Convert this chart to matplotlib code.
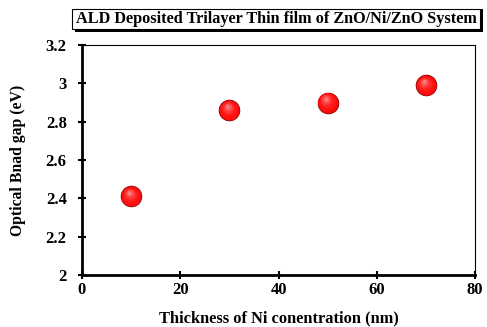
import matplotlib.pyplot as plt
import matplotlib.transforms as mtransforms

thickness = [10, 30, 50, 70]
band_gap = [2.41, 2.86, 2.90, 2.99]

plt.rcParams['font.family'] = 'Liberation Serif'
plt.rcParams['font.weight'] = 'bold'

W, H = 487, 327
fig = plt.figure(figsize=(W / 100, H / 100), dpi=100)
ax = fig.add_axes([82 / W, 1 - 275 / H, 393 / W, 230 / H])

# shaded sphere markers: stacked discs, lighter toward the upper-left
ax.scatter(thickness, band_gap, s=240, color='#6a0000', zorder=3, linewidths=0)
steps = 10
for i in range(steps):
    f = i / (steps - 1)
    size = 215 * (1 - f) ** 1.4 + 5
    g = 0.05 + 0.45 * f ** 2.5
    col = (1.0 if f > 0 else 0.9, g, g)
    off = mtransforms.ScaledTranslation(-1.5 * f / 72, 2.8 * f / 72, fig.dpi_scale_trans)
    ax.scatter(thickness, band_gap, s=size, color=col, linewidths=0, zorder=4 + i,
               transform=ax.transData + off)

ax.set_xlim(0, 80)
ax.set_ylim(2, 3.2)
ax.set_xticks([0, 20, 40, 60, 80])
ax.set_yticks([2, 2.2, 2.4, 2.6, 2.8, 3, 3.2])
ax.set_yticklabels(['2', '2.2', '2.4', '2.6', '2.8', '3', '3.2'])
ax.tick_params(direction='inout', length=6, width=1.5, labelsize=12)
ax.tick_params(axis='x', pad=2)
ax.tick_params(axis='y', pad=8)
for side in ['left', 'bottom']:
    ax.spines[side].set_linewidth(2)
for side in ['top', 'right']:
    ax.spines[side].set_linewidth(0.8)

ax.set_xlabel('Thickness of Ni conentration (nm)', fontsize=11.8, fontweight='bold', labelpad=9)
ax.set_ylabel('Optical Bnad gap (eV)', fontsize=11.3, fontweight='bold', labelpad=14)

# title box with drop shadow
fig.patches.append(plt.Rectangle((75 / W, 1 - 32 / H), 408 / W, 23 / H,
                                 transform=fig.transFigure, facecolor='black',
                                 edgecolor='none', zorder=0))
fig.patches.append(plt.Rectangle((72 / W, 1 - 29 / H), 408 / W, 20 / H,
                                 transform=fig.transFigure, facecolor='white',
                                 edgecolor='black', linewidth=0.8, zorder=1))
fig.text(276 / W, 1 - 19 / H, 'ALD Deposited Trilayer Thin film of ZnO/Ni/ZnO System',
         ha='center', va='center', fontsize=11.7, fontweight='bold', zorder=2)

fig.savefig('out.png', dpi=100)
